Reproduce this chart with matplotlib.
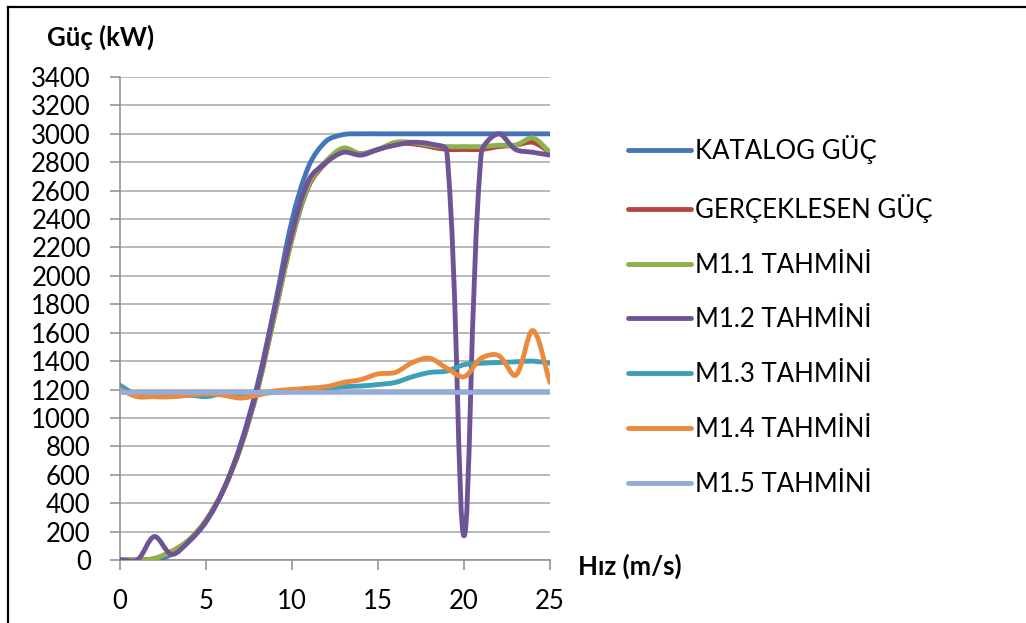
import numpy as np
import matplotlib
matplotlib.use("Agg")
import matplotlib.pyplot as plt
from matplotlib.path import Path
from matplotlib.patches import PathPatch
from matplotlib.lines import Line2D

# ---------------------------------------------------------------- data
hiz = [0, 1, 2, 3, 4, 5, 6, 7, 8, 9, 10, 11, 12,
       13, 14, 15, 16, 17, 18, 19, 20, 21, 22, 23, 24, 25]

katalog = [0, 0, 0, 40, 130, 270, 490, 810, 1240, 1790, 2390, 2780, 2950,
           2995, 3000, 3000, 3000, 3000, 3000, 3000, 3000, 3000, 3000, 3000, 3000, 3000]
gerceklesen = [0, 0, 10, 60, 140, 280, 490, 790, 1200, 1730, 2260, 2640, 2800,
               2890, 2860, 2890, 2930, 2930, 2910, 2890, 2890, 2890, 2910, 2920, 2940, 2870]
m11 = [0, 0, 10, 60, 140, 280, 490, 790, 1200, 1730, 2260, 2650, 2810,
       2900, 2860, 2890, 2940, 2940, 2920, 2910, 2910, 2910, 2920, 2920, 2970, 2870]
m12 = [0, 0, 165, 40, 130, 270, 490, 800, 1220, 1770, 2300, 2680, 2800,
       2870, 2850, 2890, 2920, 2940, 2930, 2880, 170, 2860, 3000, 2890, 2870, 2850]
m13 = [1230, 1160, 1150, 1150, 1160, 1150, 1170, 1160, 1170, 1180, 1190, 1200, 1210,
       1220, 1225, 1235, 1250, 1290, 1320, 1330, 1375, 1385, 1390, 1395, 1400, 1385]
m14 = [1200, 1150, 1150, 1150, 1160, 1170, 1160, 1140, 1160, 1190, 1200, 1210, 1220,
       1250, 1270, 1310, 1320, 1390, 1420, 1350, 1290, 1420, 1440, 1300, 1615, 1250]
m15 = [1180, 1180, 1180, 1180, 1180, 1180, 1180, 1180, 1180, 1180, 1180, 1180, 1180,
       1180, 1180, 1180, 1180, 1180, 1180, 1180, 1180, 1180, 1180, 1180, 1180, 1180]

labels = ["KATALOG GÜÇ", "GERÇEKLESEN GÜÇ", "M1.1 TAHMİNİ", "M1.2 TAHMİNİ",
          "M1.3 TAHMİNİ", "M1.4 TAHMİNİ", "M1.5 TAHMİNİ"]
series = [katalog, gerceklesen, m11, m12, m13, m14, m15]
colors = ["#4575B9", "#B8433F", "#8DB14B", "#6E5495", "#3E9FB8", "#EB8A3C", "#95ACD8"]

W, H = 1026, 623
AX_L, AX_R, AX_T, AX_B = 120, 550, 77, 560
XMAX, YMAX = 25, 3400


def smooth_path(x, y, sx, sy):
    """Excel-like smoothed line: cubic Bezier, control points weighted by
    on-screen segment lengths."""
    P = np.column_stack([x, y]).astype(float)
    S = P * [sx, sy]
    n = len(P)
    c_in, c_out = [], []
    for i in range(n):
        a = P[i - 1] if i > 0 else P[i]
        b = P[i + 1] if i < n - 1 else P[i]
        sa = S[i - 1] if i > 0 else S[i]
        sb = S[i + 1] if i < n - 1 else S[i]
        dp = np.hypot(*(S[i] - sa))
        dn = np.hypot(*(sb - S[i]))
        tot = dp + dn if dp + dn > 0 else 1.0
        T = (b - a) / 3.0
        c_out.append(P[i] + T * dn / tot)
        c_in.append(P[i] - T * dp / tot)
    verts = [P[0]]
    codes = [Path.MOVETO]
    for i in range(n - 1):
        verts += [c_out[i], c_in[i + 1], P[i + 1]]
        codes += [Path.CURVE4] * 3
    return Path(verts, codes)


plt.rcParams.update({"font.family": ["Lato", "DejaVu Sans"], "font.size": 18.5})
fig = plt.figure(figsize=(W / 100, H / 100), dpi=100)
ax = fig.add_axes([AX_L / W, 1 - AX_B / H, (AX_R - AX_L) / W, (AX_B - AX_T) / H])

sx = (AX_R - AX_L) / XMAX
sy = (AX_B - AX_T) / YMAX
for vals, c in zip(series, colors):
    ax.add_patch(PathPatch(smooth_path(hiz, vals, sx, sy), fill=False, edgecolor=c,
                           lw=3.5, capstyle="round", joinstyle="round", zorder=3))

ax.set_xlim(0, XMAX)
ax.set_ylim(0, YMAX)
ax.set_xticks(range(0, 26, 5))
ax.set_yticks(range(0, 3401, 200))
ax.yaxis.grid(True, color="#A6A6A6", lw=1.1)
ax.set_axisbelow(True)
for s in ("top", "right"):
    ax.spines[s].set_visible(False)
for s in ("left", "bottom"):
    ax.spines[s].set_color("#8C8C8C")
    ax.spines[s].set_linewidth(1.1)
ax.tick_params(direction="out", length=7, width=1.1, color="#8C8C8C",
               labelsize=18.5, pad=14)

fig.text(47 / W, 1 - 37 / H, "Güç (kW)", fontweight="bold", va="center", ha="left")
fig.text(578 / W, 1 - 566 / H, "Hız (m/s)", fontweight="bold", va="center", ha="left")

handles = [Line2D([], [], color=c, lw=3.5, solid_capstyle="round") for c in colors]
fig.legend(handles, labels, loc="upper left", bbox_to_anchor=(628 / W, 1 - 135 / H),
           frameon=False, handlelength=2.45, handletextpad=0.15, labelspacing=1.16,
           borderaxespad=0, borderpad=0, fontsize=18.5)

# frame lines (top and left only)
fig.add_artist(Line2D([8 / W, 1], [1 - 7 / H, 1 - 7 / H], color="black", lw=1.6,
                      transform=fig.transFigure))
fig.add_artist(Line2D([8 / W, 8 / W], [0, 1 - 7 / H], color="black", lw=1.6,
                      transform=fig.transFigure))

fig.savefig("out.png", dpi=100, facecolor="white")
